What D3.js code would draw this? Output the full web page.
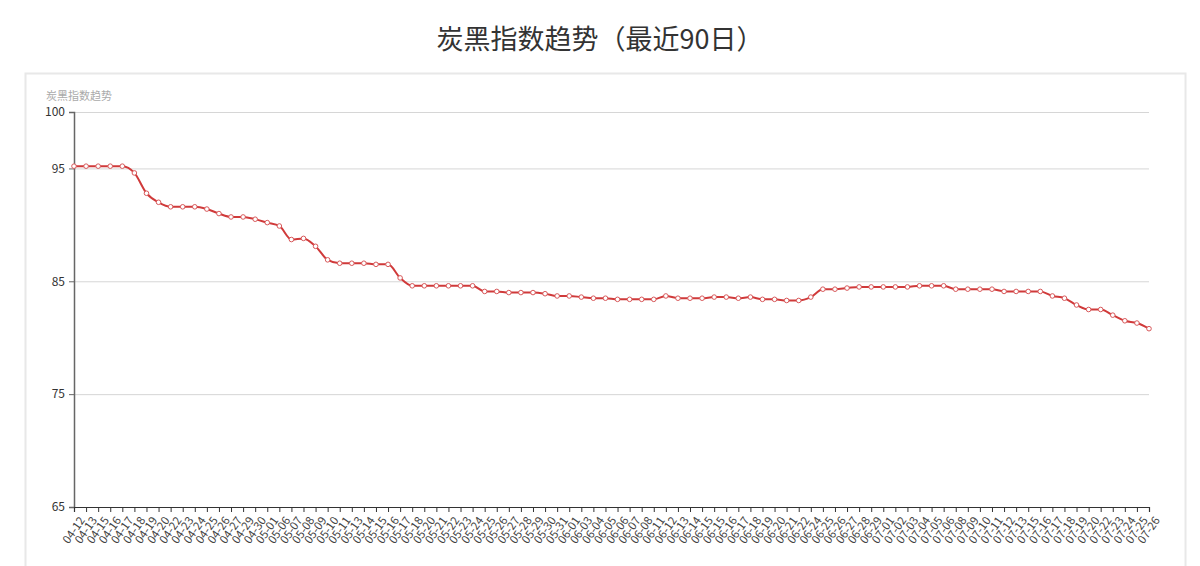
<!DOCTYPE html>
<html><head><meta charset="utf-8">
<script src="https://cdn.jsdelivr.net/npm/d3@7/dist/d3.min.js"></script>
<style>
body{margin:0;background:#fff;font-family:"Noto Sans CJK SC","Noto Sans",sans-serif;}
</style></head>
<body><svg id="c" width="1200" height="566"></svg>
<script>
const title = "炭黑指数趋势（最近90日）";
const yAxisName = "炭黑指数趋势";
const dates = ["04-12","04-13","04-15","04-16","04-17","04-18","04-19","04-20","04-22","04-23","04-24","04-25","04-26","04-27","04-29","04-30",
"05-01","05-06","05-07","05-08","05-09","05-10","05-11","05-13","05-14","05-15","05-16","05-17","05-18","05-20","05-21","05-22","05-23","05-24","05-25","05-26","05-27","05-28","05-29","05-30","05-31",
"06-01","06-03","06-04","06-05","06-06","06-07","06-08","06-11","06-12","06-13","06-14","06-15","06-15","06-16","06-17","06-18","06-19","06-20","06-21","06-22","06-24","06-25","06-26","06-27","06-28","06-29",
"07-01","07-02","07-03","07-04","07-05","07-06","07-08","07-09","07-10","07-11","07-12","07-13","07-15","07-16","07-17","07-18","07-19","07-20","07-22","07-23","07-24","07-25","07-26"];
const values = [95.2,95.2,95.2,95.2,95.2,94.6,92.8,92.0,91.6,91.6,91.6,91.4,91.0,90.7,90.7,90.5,90.2,89.9,88.7,88.8,88.1,86.9,86.6,86.6,86.6,86.5,86.5,85.3,84.6,84.6,
84.6,84.6,84.6,84.6,84.1,84.1,84.0,84.0,84.0,83.9,83.7,83.7,83.6,83.5,83.5,83.4,83.4,83.4,83.4,83.7,83.5,83.5,83.5,83.6,83.6,83.5,83.6,83.4,83.4,83.3,
83.3,83.6,84.3,84.3,84.4,84.5,84.5,84.5,84.5,84.5,84.6,84.6,84.6,84.3,84.3,84.3,84.3,84.1,84.1,84.1,84.1,83.7,83.5,82.9,82.5,82.5,82.0,81.5,81.3,80.8];
const yTicks = [65,75,85,95,100];
const yDomain = [65,100];

const svg = d3.select("#c");
const mLeft = 74, mRight = 1149, mTop = 112, mBottom = 507;

// outer box
svg.append("rect").attr("x",25.5).attr("y",73.5).attr("width",1160).attr("height",520)
  .attr("fill","none").attr("stroke","#e8e8e8").attr("stroke-width",2);

svg.append("text").attr("x",600).attr("y",49).attr("text-anchor","middle")
  .attr("font-size",27).attr("fill","#333").text(title);

const x = d3.scalePoint().domain(d3.range(dates.length)).range([mLeft,mRight]);
const y = d3.scaleLinear().domain(yDomain).range([mBottom,mTop]);

// grid
svg.append("g").selectAll("line").data(yTicks.filter(t=>t!==65)).join("line")
  .attr("x1",mLeft).attr("x2",mRight).attr("y1",d=>y(d)+0.5).attr("y2",d=>y(d)+0.5)
  .attr("stroke","#d6d6d6").attr("stroke-width",1);

// y axis
const ya = svg.append("g").attr("transform",`translate(${mLeft},0)`)
  .call(d3.axisLeft(y).tickValues(yTicks).tickSize(5).tickPadding(4));
ya.select(".domain").attr("stroke","#666").attr("stroke-width",1.5);
ya.selectAll(".tick line").attr("stroke","#666");
ya.selectAll("text").attr("fill","#333").attr("font-size",12).attr("font-family","'Noto Sans CJK SC','Noto Sans',sans-serif");

svg.append("text").attr("x",46).attr("y",100).attr("font-size",11).attr("fill","#aaa").text(yAxisName);

// x axis
const xa = svg.append("g").attr("transform",`translate(0,${mBottom})`)
  .call(d3.axisBottom(x).tickFormat(i=>dates[i]).tickSize(5).tickPadding(2));
xa.select(".domain").attr("stroke","#333").attr("stroke-width",1.2);
xa.selectAll(".tick line").attr("stroke","#333");
xa.selectAll("text").attr("fill","#444").attr("font-size",11.5)
  .attr("font-family","'Noto Sans CJK SC','Noto Sans',sans-serif")
  .attr("text-anchor","end").attr("dy","0.35em")
  .attr("transform","translate(2,7) rotate(-55)");

// line
const line = d3.line().x((d,i)=>x(i)).y(d=>y(d)).curve(d3.curveMonotoneX);
svg.append("path").datum(values).attr("d",line).attr("fill","none")
  .attr("stroke","#d03a3a").attr("stroke-width",2);
svg.append("g").selectAll("circle").data(values).join("circle")
  .attr("cx",(d,i)=>x(i)).attr("cy",d=>y(d)).attr("r",2.3)
  .attr("fill","#fff").attr("stroke","#d8585a").attr("stroke-width",1);
</script></body></html>
